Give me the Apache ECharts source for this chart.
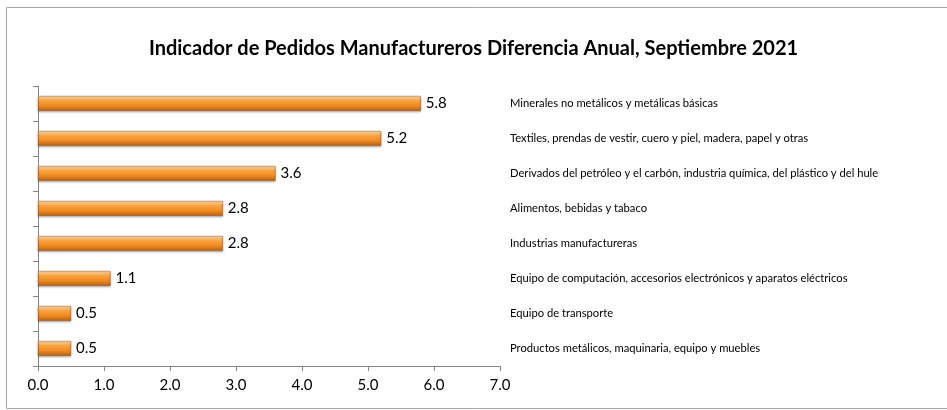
<!DOCTYPE html>
<html>
<head>
<meta charset="utf-8">
<script src="https://cdn.jsdelivr.net/npm/echarts@6/dist/echarts.min.js"></script>
<style>
  html, body { margin: 0; padding: 0; background: #fff; }
  #main { width: 947px; height: 410px; }
</style>
</head>
<body>
<div id="main"></div>
<script>
// categorías de arriba hacia abajo
var categorias = [
    'Minerales no metálicos y metálicas básicas',
    'Textiles, prendas de vestir, cuero y piel, madera, papel y otras',
    'Derivados del petróleo y el carbón, industria química, del plástico y del hule',
    'Alimentos, bebidas y tabaco',
    'Industrias manufactureras',
    'Equipo de computación, accesorios electrónicos y aparatos eléctricos',
    'Equipo de transporte',
    'Productos metálicos, maquinaria, equipo y muebles'
];
var valores = [5.8, 5.2, 3.6, 2.8, 2.8, 1.1, 0.5, 0.5];

var myChart = echarts.init(document.getElementById('main'));

var barColor = new echarts.graphic.LinearGradient(0, 0, 0, 1, [
    { offset: 0, color: '#fde1b8' },
    { offset: 0.3, color: '#f9a444' },
    { offset: 0.65, color: '#f08a1e' },
    { offset: 1, color: '#b0601e' }
]);

var option = {
    backgroundColor: '#fff',
    textStyle: { fontFamily: 'Lato' },
    title: {
        text: 'Indicador de Pedidos Manufactureros Diferencia Anual, Septiembre 2021',
        left: 'center',
        top: 34,
        textStyle: { fontSize: 20, fontWeight: 'bold', color: '#000', fontFamily: 'Lato' }
    },
    graphic: [{
        type: 'rect',
        shape: { x: 6.5, y: 7.5, width: 960, height: 401 },
        style: { fill: 'none', stroke: '#a6a6a6', lineWidth: 1 },
        silent: true
    }],
    grid: { left: 38, right: 447, top: 86, bottom: 44 },
    xAxis: {
        type: 'value',
        min: 0,
        max: 7,
        interval: 1,
        splitLine: { show: false },
        axisLine: { show: true, lineStyle: { color: '#868686' } },
        axisTick: { show: true, length: 5, lineStyle: { color: '#868686' } },
        axisLabel: {
            margin: 12,
            fontSize: 15,
            color: '#000',
            formatter: function (v) { return v.toFixed(1); }
        }
    },
    yAxis: [{
        type: 'category',
        data: categorias,
        inverse: true,
        position: 'left',
        axisLine: { show: true, lineStyle: { color: '#868686' } },
        axisTick: { show: true, length: 5, lineStyle: { color: '#868686' } },
        axisLabel: { show: false }
    }, {
        type: 'category',
        data: categorias,
        inverse: true,
        position: 'right',
        axisLine: { show: false },
        axisTick: { show: false },
        axisLabel: { margin: 10, fontSize: 11.2, color: '#000' }
    }],
    series: [{
        type: 'bar',
        data: valores,
        barWidth: 15,
        itemStyle: {
            color: barColor,
            borderColor: '#a85a18',
            borderWidth: 0.5,
            shadowColor: 'rgba(0,0,0,0.25)',
            shadowBlur: 2,
            shadowOffsetY: 1
        },
        label: {
            show: true,
            position: 'right',
            distance: 5,
            fontSize: 15,
            color: '#000',
            formatter: function (p) { return p.value.toFixed(1); }
        }
    }]
};

myChart.setOption(option);
</script>
</body>
</html>
